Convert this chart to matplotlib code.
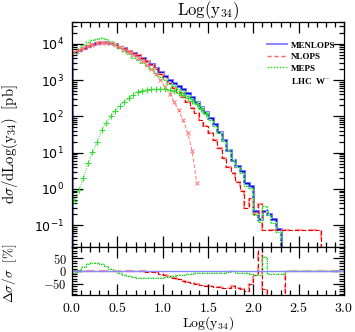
import numpy as np
import matplotlib
matplotlib.use("Agg")
import matplotlib.pyplot as plt
from matplotlib.lines import Line2D
from matplotlib.ticker import MultipleLocator, LogLocator, NullFormatter, FuncFormatter

plt.rcParams['mathtext.fontset'] = 'cm'
plt.rcParams['font.family'] = 'DejaVu Sans'

bin_width = 0.05

# log10 of d sigma / dLog(y34) [pb], one value per 0.05 bin starting at 0
menlops_log = [3.78, 3.84, 3.89, 3.94, 3.98, 4.02, 4.04, 4.04, 4.02, 3.98,
               3.92, 3.87, 3.81, 3.75, 3.69, 3.61, 3.53, 3.44, 3.33, 3.22,
               3.11, 3.01, 2.92, 2.83, 2.74, 2.63, 2.52, 2.40, 2.26, 2.12,
               1.95, 1.78, 1.58, 1.35, 1.08, 0.80, 0.64, 0.48, 0.17, 0.08,
               -0.61, -0.82, -0.61, -0.70, -0.84, -1.10]

nlops_log = [3.78, 3.84, 3.89, 3.94, 3.98, 4.02, 4.04, 4.04, 4.02, 3.98,
             3.92, 3.87, 3.81, 3.75, 3.69, 3.61, 3.52, 3.43, 3.31, 3.17,
             3.04, 2.91, 2.78, 2.66, 2.53, 2.39, 2.24, 2.08, 1.91, 1.74,
             1.55, 1.36, 1.14, 0.85, 0.61, 0.43, 0.18, -0.05, -0.53, -0.26,
             -0.70, -0.42, -1.12, -1.12, -1.12, -1.12, -1.12, -1.12, -1.12, -1.12,
             -1.12, -1.12, -1.12, -1.12, -1.12]

meps_log = [3.74, 3.86, 3.96, 4.04, 4.10, 4.14, 4.15, 4.12, 4.06, 3.99,
            3.88, 3.80, 3.71, 3.62, 3.55, 3.47, 3.39, 3.30, 3.19, 3.09,
            2.99, 2.90, 2.83, 2.75, 2.67, 2.57, 2.47, 2.36, 2.22, 2.08,
            1.91, 1.74, 1.55, 1.32, 1.06, 0.80, 0.61, 0.44, 0.09, 0.02,
            -0.72, -0.90, -0.46, -0.71, -0.94, -1.18]

# component curves, at bin centres
nlops_comp_log = [3.77, 3.83, 3.88, 3.93, 3.97, 4.01, 4.03, 4.03, 4.01, 3.96,
                  3.90, 3.84, 3.77, 3.70, 3.62, 3.53, 3.42, 3.30, 3.16, 3.00,
                  2.82, 2.62, 2.40, 2.17, 1.90, 1.55, 1.05, 0.17]

meps_comp_log = [-0.33, -0.03, 0.29, 0.70, 1.01, 1.28, 1.62, 1.815, 2.00, 2.15,
                 2.29, 2.40, 2.50, 2.60, 2.68, 2.71, 2.73, 2.75, 2.75, 2.75,
                 2.75, 2.73, 2.69, 2.64, 2.58, 2.51, 2.43, 2.33, 2.20, 2.06]

# ratio to MENLOPS [%], bins from 0 to 3.0
nlops_ratio = [0, 0, 0, 0, 0, 0, 0, 0, 0, 0,
               0, 0, 0, 0, 0, -1, -2, -3, -5, -10,
               -15, -21, -27, -33, -38, -43, -48, -52, -55, -58,
               -60, -62, -64, -68, -66, -57, -65, -70, -80, -50,
               -14, 150, -70, -150, -150, -150, -150, 0, 0, 0,
               0, 0, 0, 0, 0, 0, 0, 0, 0, 0]

meps_ratio = [-8, 5, 18, 27, 31, 31, 28, 20, 10, 2,
              -8, -15, -21, -25, -27, -28, -28, -28, -27, -26,
              -24, -22, -19, -17, -15, -13, -11, -9, -8, -8,
              -8, -8, -7, -6, -5, 0, -7, -8, -9, -12,
              -15, -15, 55, -13, -13, -13, -13, 0, 0, 0,
              0, 0, 0, 0, 0, 0, 0, 0, 0, 0]


def edges_for(n):
    return np.arange(n + 1) * bin_width


def centres_for(n):
    return (np.arange(n) + 0.5) * bin_width


fig = plt.figure(figsize=(3.55, 3.32), dpi=100)
ax = fig.add_axes([0.203, 0.256, 0.766, 0.678])
axr = fig.add_axes([0.203, 0.111, 0.766, 0.145])

base = 1e-3
menlops = 10 ** np.array(menlops_log)
nlops = 10 ** np.array(nlops_log)
meps = 10 ** np.array(meps_log)

ax.stairs(menlops, edges_for(len(menlops)), baseline=base, color='#8888ff', lw=2.2)
ax.stairs(menlops, edges_for(len(menlops)), baseline=base, color='#0000ee', lw=0.9)
ax.stairs(nlops, edges_for(len(nlops)), baseline=base, color='#ff9999', lw=1.6, ls=(0, (4, 2)))
ax.stairs(nlops, edges_for(len(nlops)), baseline=base, color='#ee0000', lw=0.8, ls=(0, (4, 2)))
ax.stairs(meps, edges_for(len(meps)), baseline=base, color='#99ff99', lw=1.6, ls=(0, (1, 1.2)))
ax.stairs(meps, edges_for(len(meps)), baseline=base, color='#00cc00', lw=0.8, ls=(0, (1, 1.2)))

ax.plot(centres_for(len(nlops_comp_log)), 10 ** np.array(nlops_comp_log),
        color='#ff7777', lw=0.7, ls=(0, (4, 2)), marker='x', ms=3, mew=0.7)
ax.plot(centres_for(len(meps_comp_log)), 10 ** np.array(meps_comp_log),
        color='#33dd33', lw=0.7, ls=(0, (1, 1.2)), marker='+', ms=4, mew=0.8)

ax.set_yscale('log')
ax.set_xlim(0, 3.0)
ax.set_ylim(0.025, 4e4)
ax.yaxis.set_major_locator(LogLocator(base=10, numticks=10))
ax.yaxis.set_minor_locator(LogLocator(base=10, subs=np.arange(2, 10), numticks=20))
ax.yaxis.set_minor_formatter(NullFormatter())
ax.xaxis.set_major_locator(MultipleLocator(0.5))
ax.xaxis.set_minor_locator(MultipleLocator(0.1))
ax.xaxis.set_major_formatter(NullFormatter())

# ratio panel
axr.axhline(0, color='#8888ff', lw=1.0)
r_edges = edges_for(len(nlops_ratio))
axr.stairs(nlops_ratio, r_edges, color='#ff9999', lw=1.6, ls=(0, (4, 2)))
axr.stairs(nlops_ratio, r_edges, color='#dd0000', lw=0.8, ls=(0, (4, 2)))
axr.stairs(meps_ratio, r_edges, color='#99ff99', lw=1.4, ls=(0, (1, 1.2)))
axr.stairs(meps_ratio, r_edges, color='#00bb00', lw=0.8, ls=(0, (1, 1.2)))
axr.set_xlim(0, 3.0)
axr.set_ylim(-95, 95)
axr.xaxis.set_major_locator(MultipleLocator(0.5))
axr.xaxis.set_minor_locator(MultipleLocator(0.1))
axr.xaxis.set_major_formatter(FuncFormatter(lambda v, p: r'$\mathsf{%.1f}$' % v))
axr.yaxis.set_major_locator(MultipleLocator(50))
axr.yaxis.set_minor_locator(MultipleLocator(10))
axr.yaxis.set_major_formatter(FuncFormatter(lambda v, p: r'$\mathsf{%d}$' % round(v)))

for a in (ax, axr):
    a.tick_params(which='both', direction='in', top=True, right=True, width=0.9)
    a.tick_params(which='major', length=8)
    a.tick_params(which='minor', length=3.5)
    for s in a.spines.values():
        s.set_linewidth(0.9)
ax.tick_params(axis='y', which='major', labelsize=9, pad=6)
axr.tick_params(axis='x', which='major', labelsize=10, pad=4)
axr.tick_params(axis='y', which='major', labelsize=9, pad=4)

handles = [Line2D([], [], color='#8888ff', lw=1.5),
           Line2D([], [], color='#ff6666', lw=1.0, ls=(0, (3, 2))),
           Line2D([], [], color='#00ee00', lw=1.0, ls=(0, (1, 1.2))),
           Line2D([], [], color='none')]
labels = ['MENLOPS', 'NLOPS', 'MEPS', r'LHC  W$^{-}$']
leg = ax.legend(handles, labels, loc='upper right', bbox_to_anchor=(1.0, 0.95),
                frameon=False, handlelength=2.2, handletextpad=0.5, labelspacing=0.35,
                prop={'family': 'Liberation Serif', 'weight': 'bold', 'size': 6.5})

fig.text(208 / 355, 1 - 11 / 332, r'$\mathrm{Log(y_{34})}$', ha='center', va='center', fontsize=12)
fig.text(208 / 355, 1 - 323 / 332, r'$\mathrm{Log(y_{34})}$', ha='center', va='center', fontsize=10)
fig.text(10 / 355, 1 - 144 / 332, r'$\mathrm{d}\sigma/\mathrm{dLog(y_{34})\ \ [pb]}$',
         rotation=90, ha='center', va='center', fontsize=10.5)
fig.text(10 / 355, 1 - 273 / 332, r'$\Delta\sigma/\sigma\ \ [\%]$',
         rotation=90, ha='center', va='center', fontsize=9.5)

fig.savefig('out.png', dpi=100)
